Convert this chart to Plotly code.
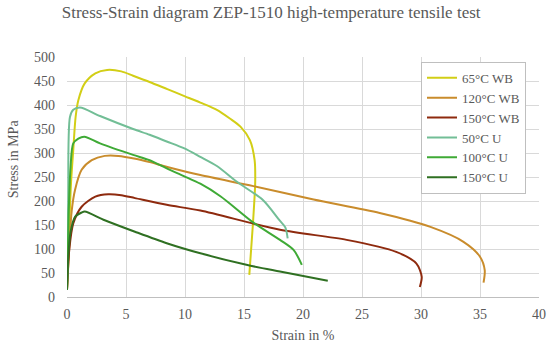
import plotly.graph_objects as go

# Data (strain in %, stress in MPa)
names = ["65°C WB", "120°C WB", "150°C WB", "50°C U", "100°C U", "150°C U"]
colors = ["#D2CE16", "#C98C2C", "#8E2A0E", "#72BE96", "#3FAA36", "#2F7022"]

x_65wb = [0, 0.15, 0.34, 0.53, 0.73, 0.96, 1.5, 2.4, 3.4, 4.6, 5.6, 7.0, 8.5, 10.0, 11.3, 12.7, 13.8, 14.7, 15.5, 15.9, 15.95, 15.75, 15.45]
y_65wb = [15, 120, 237, 306, 375, 410, 445, 466, 473, 470, 461, 448, 433, 418, 405, 390, 372, 355, 327, 285, 240, 150, 46]

x_120wb = [0, 0.2, 0.4, 0.68, 1.24, 2.1, 3.2, 4.35, 5.8, 7.0, 8.5, 11.3, 15.8, 20.9, 26.5, 30.8, 33.6, 35.0, 35.4, 35.3]
y_120wb = [15, 110, 180, 223, 265, 285, 294, 294, 288, 281, 271, 254, 231, 203, 175, 146, 115, 84, 56, 30]

x_150wb = [0, 0.2, 0.53, 1.24, 2.4, 3.5, 4.6, 5.76, 8.45, 11.3, 18.05, 23.7, 27.9, 29.6, 30.06, 29.9]
y_150wb = [15, 100, 153, 188, 209, 214, 212, 206, 192, 180, 140, 119, 94, 70, 42, 21]

x_50u = [0, 0.1, 0.25, 0.53, 1.1, 2.8, 5.6, 7.0, 8.45, 9.9, 11.3, 12.7, 14.4, 16.6, 18.0, 18.5, 18.7]
y_50u = [15, 200, 375, 390, 395, 377, 350, 338, 324, 310, 292, 273, 240, 202, 160, 145, 122]

x_100u = [0, 0.15, 0.3, 0.53, 0.96, 1.47, 2.8, 5.6, 7.0, 8.45, 9.9, 11.3, 13.0, 15.8, 18.05, 19.2, 19.9]
y_100u = [15, 180, 270, 320, 330, 334, 320, 296, 285, 268, 252, 236, 210, 155, 119, 98, 67]

x_150u = [0, 0.1, 0.3, 0.68, 1.24, 1.5, 3.2, 5.76, 8.45, 11.3, 15.2, 18.05, 22.1]
y_150u = [15, 80, 135, 167, 176, 178, 160, 136, 112, 91, 67, 53, 34]

xs = [x_65wb, x_120wb, x_150wb, x_50u, x_100u, x_150u]
ys = [y_65wb, y_120wb, y_150wb, y_50u, y_100u, y_150u]

x_ticks = [0, 5, 10, 15, 20, 25, 30, 35, 40]
y_ticks = [0, 50, 100, 150, 200, 250, 300, 350, 400, 450, 500]

font_family = "Liberation Serif, Times New Roman, serif"
txt = "#595959"

fig = go.Figure()
for n, c, x, y in zip(names, colors, xs, ys):
    fig.add_trace(go.Scatter(x=x, y=y, mode="lines", name=n,
                             line=dict(color=c, width=2, shape="spline", smoothing=0.8)))

fig.update_layout(
    width=550, height=346,
    margin=dict(l=67, r=11, t=57, b=49),
    paper_bgcolor="white", plot_bgcolor="white",
    font=dict(family=font_family, color=txt, size=14),
    title=dict(text="Stress-Strain diagram ZEP-1510 high-temperature tensile test",
               x=0.493, xanchor="center", y=0.966, yanchor="middle",
               font=dict(size=17, color=txt, family=font_family)),
    showlegend=True,
    legend=dict(x=0.75, y=0.98, xanchor="left", yanchor="top",
                bgcolor="white", bordercolor="#BFBFBF", borderwidth=1,
                font=dict(size=13, color=txt, family=font_family),
                tracegroupgap=0, itemwidth=30),
    annotations=[dict(text="Stress in MPa", textangle=-90, xref="paper", yref="paper",
                      x=-0.114, y=0.575, xanchor="center", yanchor="middle",
                      showarrow=False, font=dict(size=14, color=txt, family=font_family))],
)
fig.update_xaxes(range=[0, 40], tickvals=x_ticks, showgrid=True, gridcolor="#D9D9D9",
                 zeroline=False, showline=True, linecolor="#BFBFBF", ticks="",
                 automargin=False, ticklabelstandoff=4, tickfont=dict(size=14),
                 title=dict(text="Strain in %", standoff=9, font=dict(size=14)))
fig.update_yaxes(range=[0, 500], tickvals=y_ticks, showgrid=True, gridcolor="#D9D9D9",
                 zeroline=False, showline=False, ticks="", automargin=False,
                 ticklabelstandoff=11, tickfont=dict(size=14))

# remove the default 8px page margin so the figure sits at the window's corner
fig.write_html("out.html", config={"displayModeBar": False},
               post_script="document.body.style.margin='0px';")
